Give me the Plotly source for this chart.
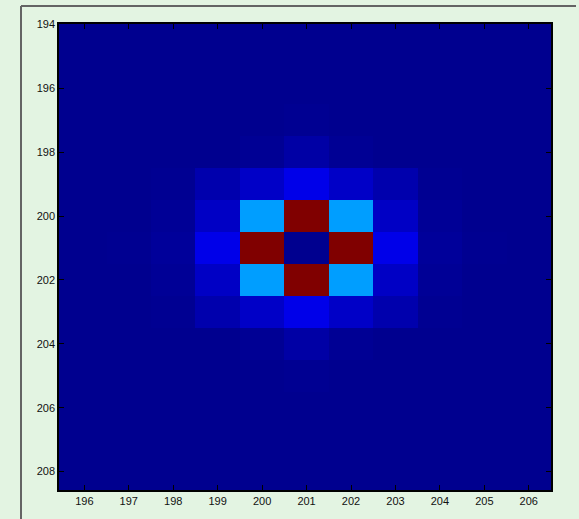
import plotly.graph_objects as go

# Data
x_cols = [196, 197, 198, 199, 200, 201, 202, 203, 204, 205, 206]
y_rows = [194, 195, 196, 197, 198, 199, 200, 201, 202, 203, 204, 205, 206, 207, 208]

row_zero = [0, 0, 0, 0, 0, 0, 0, 0, 0, 0, 0]
row_197 = [0, 0, 0, 0, 0, 0.003, 0, 0, 0, 0, 0]
row_198 = [0, 0, 0, 0, 0.006, 0.024, 0.006, 0, 0, 0, 0]
row_199 = [0, 0, 0.003, 0.033, 0.063, 0.100, 0.063, 0.033, 0.003, 0, 0]
row_200 = [0, 0, 0.008, 0.060, 0.280, 1.000, 0.280, 0.060, 0.008, 0, 0]
row_201 = [0, 0.002, 0.012, 0.100, 1.000, 0.000, 1.000, 0.100, 0.012, 0.002, 0]
row_202 = [0, 0, 0.008, 0.060, 0.280, 1.000, 0.280, 0.060, 0.008, 0, 0]
row_203 = [0, 0, 0.003, 0.033, 0.063, 0.100, 0.063, 0.033, 0.003, 0, 0]
row_204 = [0, 0, 0, 0, 0.006, 0.024, 0.006, 0, 0, 0, 0]
row_205 = [0, 0, 0, 0, 0, 0.003, 0, 0, 0, 0, 0]

z = [row_zero, row_zero, row_zero, row_197, row_198, row_199, row_200,
     row_201, row_202, row_203, row_204, row_205, row_zero, row_zero, row_zero]

x_ticks = [196, 197, 198, 199, 200, 201, 202, 203, 204, 205, 206]
y_ticks = [194, 196, 198, 200, 202, 204, 206, 208]

jet = [
    [0.0, "rgb(0,0,143)"],
    [0.125, "rgb(0,0,255)"],
    [0.375, "rgb(0,255,255)"],
    [0.625, "rgb(255,255,0)"],
    [0.875, "rgb(255,0,0)"],
    [1.0, "rgb(128,0,0)"],
]

fig = go.Figure(go.Heatmap(
    x=x_cols, y=y_rows, z=z,
    colorscale=jet, zmin=0, zmax=1,
    showscale=False, zsmooth=False, hoverinfo="skip",
))

bg = "rgb(227,244,226)"
axis_common = dict(
    showgrid=False, zeroline=False,
    showline=True, linecolor="black", linewidth=1.5, mirror="ticks",
    ticks="inside", ticklen=5, tickwidth=1, tickcolor="black",
    tickfont=dict(family="Liberation Sans, Arial", size=11, color="#111"),
)

fig.update_layout(
    width=579, height=519,
    margin=dict(l=59, r=28, t=24, b=27),
    paper_bgcolor=bg, plot_bgcolor="rgb(0,0,143)",
    xaxis=dict(range=[195.43, 206.5], tickvals=x_ticks, **axis_common),
    yaxis=dict(range=[208.58, 193.98], tickvals=y_ticks, **axis_common),
    shapes=[
        dict(type="line", xref="paper", yref="paper",
             x0=(21 - 59) / 492, x1=(576 - 59) / 492,
             y0=(492 - 6) / 468, y1=(492 - 6) / 468,
             line=dict(color="rgb(100,100,100)", width=2)),
        dict(type="line", xref="paper", yref="paper",
             x0=(21 - 59) / 492, x1=(21 - 59) / 492,
             y0=(492 - 6) / 468, y1=(492 - 530) / 468,
             line=dict(color="rgb(100,100,100)", width=2)),
    ],
)

fig.write_html("out.html")
